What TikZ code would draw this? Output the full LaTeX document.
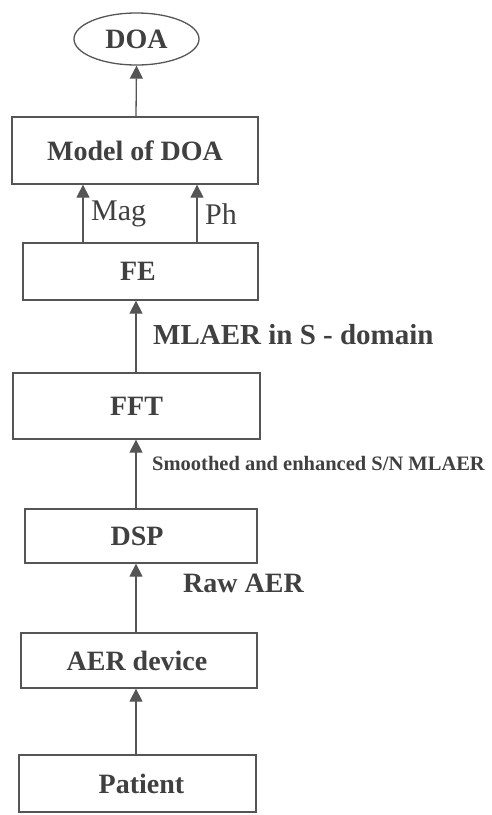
\documentclass[tikz,border=0pt]{standalone}
\usepackage{fontspec}
\setmainfont{Liberation Serif}
\usetikzlibrary{shapes.geometric,arrows.meta}
\definecolor{ink}{HTML}{404040}
\definecolor{edge}{HTML}{555555}
\tikzset{
  blk/.style={draw=edge,line width=1.3pt,rectangle,inner sep=0pt,text=ink,font=\fontsize{28}{30}\selectfont\bfseries},
  arr/.style={draw=edge,line width=1.3pt,-{Triangle[length=13pt,width=13pt]}},
  lbl/.style={text=ink,anchor=west,inner sep=0pt},
}
\begin{document}
\begin{tikzpicture}[x=1pt,y=-1pt]
\useasboundingbox (0,0) rectangle (491,815);
\node[blk,ellipse,minimum width=125pt,minimum height=52pt] (doa) at (136.5,39) {DOA};
\node[blk,minimum width=246pt,minimum height=67pt] (model) at (135,150.5) {Model of DOA};
\node[blk,minimum width=235pt,minimum height=57pt] (fe) at (140.5,271.5) {\hspace*{-5pt}FE};
\node[blk,minimum width=247pt,minimum height=66pt] (fft) at (136.5,406) {FFT};
\node[blk,minimum width=232pt,minimum height=54pt] (dsp) at (141,536) {\hspace*{-8pt}DSP};
\node[blk,minimum width=236pt,minimum height=55pt] (aer) at (139,660.5) {\hspace*{-4pt}AER device};
\node[blk,minimum width=237pt,minimum height=57pt] (pat) at (137.5,783.5) {\hspace*{8pt}Patient};
\coordinate (cx) at (136,0);
\coordinate (magx) at (83,0);
\coordinate (phx) at (197,0);
\draw[arr] (model.north -| cx) -- (doa.south);
\draw[arr] (fe.north -| magx) -- (model.south -| magx);
\draw[arr] (fe.north -| phx) -- (model.south -| phx);
\draw[arr] (fft.north -| cx) -- (fe.south -| cx);
\draw[arr] (dsp.north -| cx) -- (fft.south -| cx);
\draw[arr] (aer.north -| cx) -- (dsp.south -| cx);
\draw[arr] (pat.north -| cx) -- (aer.south -| cx);
\node[lbl,font=\fontsize{30}{32}\selectfont] (mag) at (91,214) {Mag};
\node[lbl,font=\fontsize{30}{32}\selectfont] (ph) at (205,214) {Ph};
\node[lbl,font=\fontsize{29}{31}\selectfont\bfseries] (l1) at (153,335) {MLAER in S - domain};
\node[lbl,font=\fontsize{20.5}{22}\selectfont\bfseries] (l2) at (152,463) {Smoothed and enhanced S/N MLAER};
\node[lbl,font=\fontsize{28}{30}\selectfont\bfseries] (l3) at (183,583) {Raw AER};
\end{tikzpicture}
\end{document}
